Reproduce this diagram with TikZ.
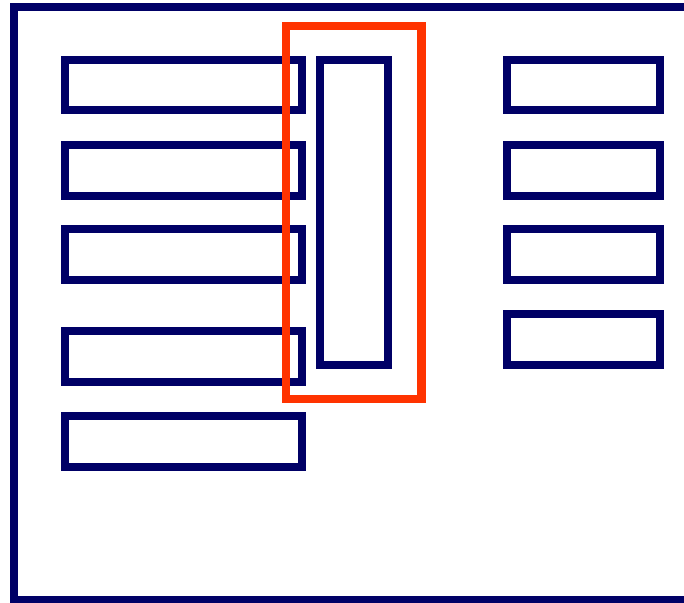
\documentclass[tikz,border=0pt]{standalone}
\definecolor{navy}{HTML}{000066}
\definecolor{hilite}{HTML}{FF3300}
\tikzset{
  box/.style={draw=navy, line width=8.5pt},
  frame/.style={draw=navy, line width=8pt},
  mark box/.style={draw=hilite, line width=8.5pt}
}
\begin{document}
\begin{tikzpicture}[x=1pt,y=-1pt]
\useasboundingbox (0,0) rectangle (684,602);
\clip (0,0) rectangle (684,602);
\draw[frame] (14,7) rectangle (700,600);
% left column
\draw[box] (65,60) rectangle (302,110);
\draw[box] (65,145) rectangle (302,196);
\draw[box] (65,229) rectangle (302,280);
\draw[box] (65,331) rectangle (302,382);
\draw[box] (65,416) rectangle (302,467);
% middle tall box
\draw[box] (320,60) rectangle (388,365);
% right column
\draw[box] (507,60) rectangle (660,110);
\draw[box] (507,145) rectangle (660,196);
\draw[box] (507,229) rectangle (660,280);
\draw[box] (507,314) rectangle (660,365);
% highlight
\draw[mark box] (286,26) rectangle (421.5,399);
\end{tikzpicture}
\end{document}
